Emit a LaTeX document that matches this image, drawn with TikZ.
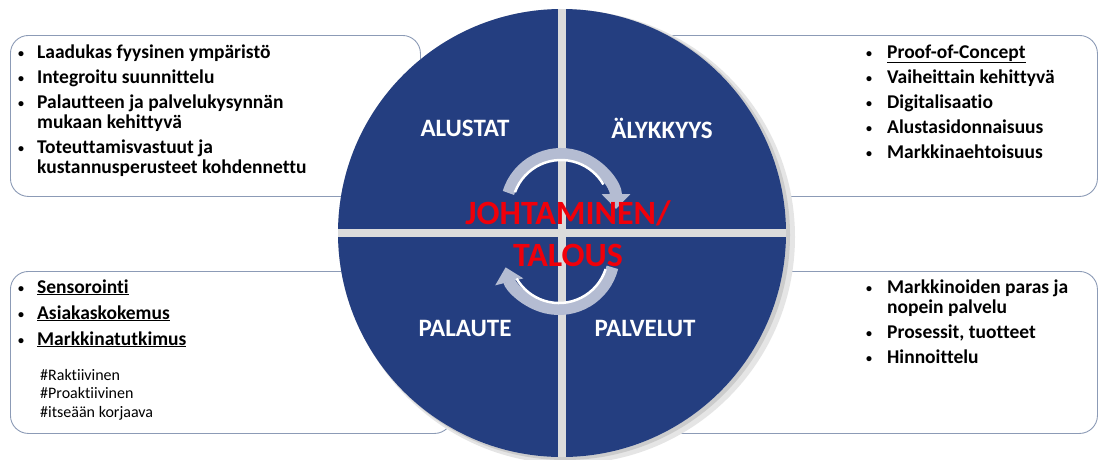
\documentclass[tikz,border=0pt]{standalone}
\usepackage{fontspec}
\setmainfont{Carlito}[Ligatures=NoCommon]
\usetikzlibrary{arrows.meta, positioning, calc}

\definecolor{quadblue}{RGB}{36,62,128}
\definecolor{boxline}{RGB}{140,155,182}
\definecolor{cycgray}{RGB}{180,188,210}
\definecolor{hubred}{RGB}{240,0,10}

\newcommand{\listdot}{\raisebox{1pt}{\fontsize{12}{12}\selectfont\textbullet}}

\begin{document}
\begin{tikzpicture}[x=1pt, y=1pt,
    infobox/.style={rectangle, rounded corners=18pt, draw=boxline, line width=0.9pt, fill=white, anchor=north west, inner sep=0pt},
    listtext/.style={anchor=base west, inner sep=0pt, font=\fontsize{19.5}{20}\selectfont\bfseries},
    tagtext/.style={anchor=base west, inner sep=0pt, align=left, font=\fontsize{16}{18.5}\selectfont},
    quadlabel/.style={text=white, inner sep=0pt, font=\fontsize{25}{28}\selectfont\bfseries},
    hubtext/.style={text=hubred, inner sep=0pt, align=center, font=\fontsize{34}{42}\selectfont\bfseries},
    cycarrow/.style={draw=cycgray, line width=12pt, -{Triangle[width=28pt, length=15pt]}},
    cycshine/.style={draw=white, line width=2.5pt}
]

\useasboundingbox (0,0) rectangle (1099,-459);

% Boxes behind the circle
\node[infobox, minimum width=410pt, minimum height=161pt] (boxalustat) at (10,-35) {};
\node[infobox, minimum width=442pt, minimum height=161pt] (boxaly) at (655,-35) {};
\node[infobox, minimum width=442pt, minimum height=162pt] (boxpalaute) at (10,-271) {};
\node[infobox, minimum width=442pt, minimum height=162pt] (boxpalvelut) at (655,-271) {};

% Circle with four quadrants
\coordinate (hub) at (562,-233);
\fill[gray!20] ($(hub)+(6,-4)$) circle (227);
\fill[gray!40] ($(hub)+(3,-2)$) circle (225);
\fill[gray!28] (hub) circle (224);
\begin{scope}[shift={(hub)}]
  \clip (0,0) circle (224);
  \fill[quadblue] (-4,4) rectangle (-230,230);
  \fill[quadblue] (4,4) rectangle (230,230);
  \fill[quadblue] (-4,-4) rectangle (-230,-230);
  \fill[quadblue] (4,-4) rectangle (230,-230);
\end{scope}

% Quadrant labels
\node[quadlabel] (alustat) at (465,-128) {ALUSTAT};
\node[quadlabel] (alykkyys) at (662,-128) {ÄLYKKYYS};
\node[quadlabel] (palaute) at (465,-328) {PALAUTE};
\node[quadlabel] (palvelut) at (645,-328) {PALVELUT};

% Cycle arrows
\coordinate (cyctop) at (561,-209);
\coordinate (cycbot) at (559,-254);
\draw[cycarrow] ([shift={(163:55)}]cyctop) arc[start angle=163, end angle=0, radius=55];
\draw[cycshine] ([shift={(160:49)}]cyctop) arc[start angle=160, end angle=30, radius=49];
\draw[cycarrow] ([shift={(-14:55)}]cycbot) arc[start angle=-14, end angle=-166, radius=55];
\draw[cycshine] ([shift={(-18:49)}]cycbot) arc[start angle=-18, end angle=-150, radius=49];

% Centre text
\node[hubtext] (hubtitle) at (568,-234) {JOHTAMINEN/\\TALOUS};

% Lists
\node[listtext] (listalustat) at (18,-58) {\begin{tabular}[t]{@{}l@{\hspace{13pt}}l@{}}
\listdot & Laadukas fyysinen ympäristö\\[5pt]
\listdot & Integroitu suunnittelu\\[5pt]
\listdot & Palautteen ja palvelukysynnän\\
 & mukaan kehittyvä\\[5pt]
\listdot & Toteuttamisvastuut ja\\
 & kustannusperusteet kohdennettu
\end{tabular}};

\node[listtext] (listaly) at (866,-58) {\begin{tabular}[t]{@{}l@{\hspace{15pt}}l@{}}
\listdot & \underline{Proof-of-Concept}\\[5pt]
\listdot & Vaiheittain kehittyvä\\[5pt]
\listdot & Digitalisaatio\\[5pt]
\listdot & Alustasidonnaisuus\\[5pt]
\listdot & Markkinaehtoisuus
\end{tabular}};

\node[listtext] (listpalaute) at (18,-293) {\begin{tabular}[t]{@{}l@{\hspace{13pt}}l@{}}
\listdot & \underline{Sensorointi}\\[6pt]
\listdot & \underline{Asiakaskokemus}\\[6pt]
\listdot & \underline{Markkinatutkimus}
\end{tabular}};
\node[tagtext] (tags) at (40,-417) {\#Raktiivinen\\\#Proaktiivinen\\\#itseään korjaava};

\node[listtext] (listpalvelut) at (866,-293) {\begin{tabular}[t]{@{}l@{\hspace{15pt}}l@{}}
\listdot & Markkinoiden paras ja\\
 & nopein palvelu\\[5pt]
\listdot & Prosessit, tuotteet\\[5pt]
\listdot & Hinnoittelu
\end{tabular}};

\end{tikzpicture}
\end{document}
